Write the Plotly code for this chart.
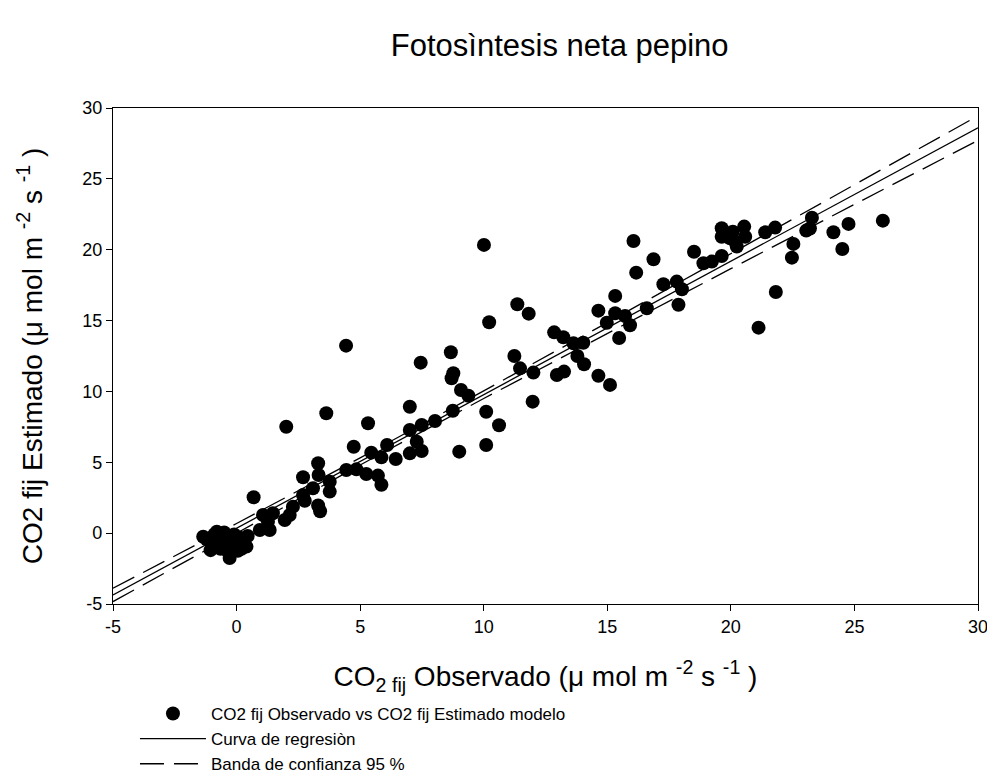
import plotly.graph_objects as go

obs_x = [
    # cluster around origin
    -1.35, -1.2, -1.05, -0.95, -0.9, -0.8, -0.75, -0.65, -0.6, -0.5, -0.45, -0.35,
    -0.28, -0.2, -0.1, 0.0, 0.1, 0.2, 0.3, 0.4, 0.45, -1.0, 0.05,
    # low range
    0.69, 0.94, 1.07, 1.27, 1.34, 1.47, 1.95, 2.15, 2.28, 2.69, 2.76, 3.09, 3.3,
    3.38, 3.3, 3.32, 2.69, 3.77, 3.77, 4.44, 4.85, 5.25, 5.72, 5.86, 2.01, 3.63,
    5.32, 4.74, 5.45, 6.09, 5.86, 6.44, 7.01, 7.01, 7.01, 4.43,
    # middle range
    7.29, 7.49, 7.49, 8.03, 7.45, 8.67, 8.77, 8.7, 9.08, 9.38, 8.75, 10.1, 10.62,
    10.1, 9.01, 10.01, 11.36, 11.82, 10.22, 11.24, 11.47, 12.01, 11.98, 12.85,
    13.22, 13.63, 14.03, 13.79, 14.06, 12.96, 13.25, 14.64, 14.64, 15.11,
    # upper range
    14.98, 15.32, 15.32, 15.72, 15.92, 15.48, 16.6, 16.06, 16.87, 16.17, 17.27,
    17.81, 18.02, 17.88, 18.51, 18.89, 19.23, 19.63, 19.63, 19.63, 20.08, 20.54,
    20.58, 20.17, 20.24, 19.97, 21.39, 21.79, 21.12, 21.82, 22.53, 22.47, 23.28,
    23.05, 23.2, 24.15, 24.76, 24.51, 26.15,
]
est_y = [
    -0.25, -0.45, -1.2, -0.9, -0.1, 0.1, -0.6, -1.1, -0.3, 0.05, -0.7, -1.3,
    -1.75, -0.4, -0.1, -0.8, -0.3, -1.1, -0.5, -0.95, -0.2, -0.35, -1.25,
    2.53, 0.22, 1.28, 0.81, 0.22, 1.4, 0.93, 1.28, 1.87, 2.69, 2.29, 3.17, 1.95,
    1.55, 4.93, 4.1, 3.94, 3.63, 2.93, 4.46, 4.5, 4.17, 4.06, 3.42, 7.51, 8.46,
    7.75, 6.1, 5.68, 6.22, 5.35, 5.23, 8.92, 7.28, 5.63, 13.23,
    6.45, 7.63, 5.8, 7.91, 12.03, 12.76, 11.28, 10.93, 10.1, 9.7, 8.64, 8.57, 7.61,
    6.22, 5.75, 20.34, 16.15, 15.49, 14.88, 12.5, 11.63, 11.33, 9.28, 14.17,
    13.82, 13.4, 13.44, 12.5, 11.92, 11.16, 11.4, 15.7, 11.11, 10.46,
    14.85, 16.74, 15.52, 15.32, 14.67, 13.77, 15.87, 20.62, 19.33, 18.38, 17.56,
    17.75, 17.21, 16.12, 19.86, 19.04, 19.16, 19.56, 21.51, 20.92, 21.27, 21.63,
    20.92, 20.57, 20.22, 20.81, 21.23, 21.56, 14.5, 17.02, 20.41, 19.44, 22.26,
    21.35, 21.5, 21.23, 21.82, 20.05, 22.05,
]

# Regression line and 95 % confidence band
line_x = [-5, 0, 5, 10, 15, 20, 25, 30]
reg_y = [-4.36, 0.35, 5.06, 9.77, 14.48, 19.19, 23.90, 28.61]
band_upper = [-3.89, 0.68, 5.31, 10.04, 14.86, 19.72, 24.60, 29.45]
band_lower = [-4.83, 0.02, 4.81, 9.50, 14.10, 18.66, 23.20, 27.71]

x_ticks = [-5, 0, 5, 10, 15, 20, 25, 30]
y_ticks = [-5, 0, 5, 10, 15, 20, 25, 30]

FONT = "Liberation Sans, Arial, sans-serif"

fig = go.Figure()
fig.add_trace(go.Scatter(
    x=obs_x, y=est_y, mode="markers",
    marker=dict(color="black", size=14, symbol="circle"),
    name="CO2 fij Observado vs CO2 fij Estimado modelo",
))
fig.add_trace(go.Scatter(
    x=line_x, y=reg_y, mode="lines",
    line=dict(color="black", width=1.3),
    name="Curva de regresiòn",
))
fig.add_trace(go.Scatter(
    x=line_x, y=band_upper, mode="lines",
    line=dict(color="black", width=1.3, dash="24px,10px"),
    name="Banda de confianza 95 %", legendgroup="band",
))
fig.add_trace(go.Scatter(
    x=line_x, y=band_lower, mode="lines",
    line=dict(color="black", width=1.3, dash="24px,10px"),
    name="Banda de confianza 95 %", legendgroup="band", showlegend=False,
))

axis_common = dict(
    showgrid=False, zeroline=False, showline=True, linecolor="black",
    linewidth=1.3, mirror=True, ticks="outside", ticklen=6, tickwidth=1.2,
    tickcolor="black", tickfont=dict(family=FONT, size=18, color="black"),
    automargin=False,
)

fig.update_layout(
    width=987, height=768,
    margin=dict(l=105, r=17, t=100, b=172, autoexpand=False),
    paper_bgcolor="white", plot_bgcolor="white",
    font=dict(family=FONT, color="black"),
    title=dict(text="Fotosìntesis neta pepino", x=0.559, xanchor="center",
               y=0.952, yanchor="middle", font=dict(size=31, family=FONT)),
    xaxis=dict(range=[-5, 30], tickvals=x_ticks, ticktext=[str(v) for v in x_ticks],
               title=dict(text="CO<sub>2 fij</sub> Observado (μ mol m <sup>-2</sup> s <sup>-1</sup> )",
                          font=dict(size=28, family=FONT), standoff=30),
               **axis_common),
    yaxis=dict(range=[-5, 30], tickvals=y_ticks, ticktext=[str(v) for v in y_ticks],
               title=dict(text="CO2 fij Estimado (μ mol m <sup>-2</sup> s <sup>-1</sup> )",
                          font=dict(size=28, family=FONT), standoff=31),
               **axis_common),
    showlegend=True,
    legend=dict(x=0.0254, y=-0.1855, xanchor="left", yanchor="top",
                bgcolor="rgba(0,0,0,0)", font=dict(size=17, family=FONT),
                tracegroupgap=0, itemwidth=66),
)

fig.write_html("out.html")
